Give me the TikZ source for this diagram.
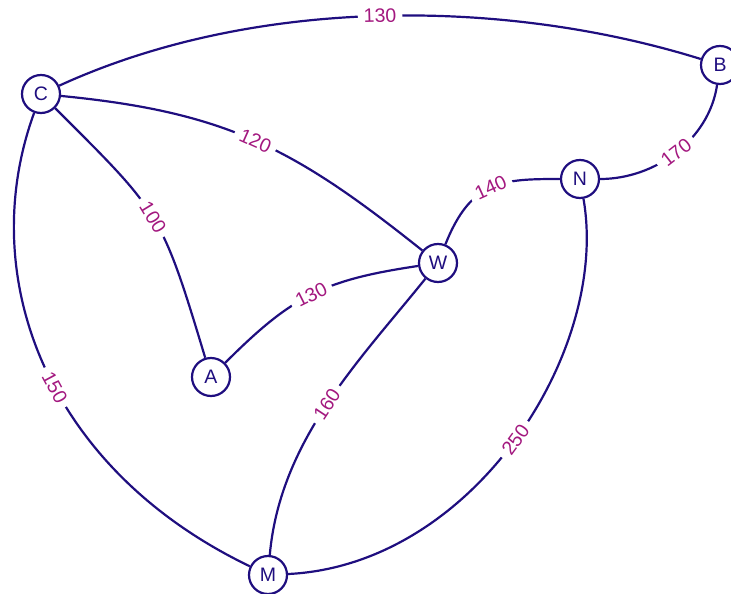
\documentclass[tikz,border=0pt]{standalone}
\usepackage{fontspec}
\setmainfont{Liberation Sans}
\definecolor{edgec}{HTML}{1F0E7F}
\definecolor{labc}{HTML}{A3187F}
\begin{document}
\begin{tikzpicture}[x=1pt,y=-1pt,
  vert/.style={circle,draw=edgec,fill=white,line width=2.2pt,minimum size=38pt,inner sep=0pt,text=edgec,font=\fontsize{19.5}{22}\selectfont},
  edge/.style={draw=edgec,line width=2.2pt},
  wt/.style={fill=white,text=labc,sloped,inner xsep=6pt,inner ysep=3pt,font=\fontsize{19.5}{22}\selectfont}]
\useasboundingbox (0,0) rectangle (731,594);
\node[vert] (C) at (41,94) {C};
\node[vert] (B) at (720,65) {B};
\node[vert] (N) at (580,179) {N};
\node[vert] (W) at (438,263) {W};
\node[vert] (A) at (211,377) {A};
\node[vert] (M) at (268,575) {M};
\draw[edge] (C) .. controls (255,-4) and (505,-2) .. node[wt]{130} (B);
\draw[edge] (C) .. controls (226,112) and (294,148) .. node[wt]{120} (W);
\draw[edge] (C) .. controls (160,213) and (161,211) .. node[wt]{100} (A);
\draw[edge] (C) .. controls (-25,275) and (45,468) .. node[wt,pos=0.55]{150} (M);
\draw[edge] (B) .. controls (709,140) and (655,179) .. node[wt]{170} (N);
\draw[edge] (N) .. controls (502,179) and (471,180) .. node[wt]{140} (W);
\draw[edge] (N) .. controls (610,350) and (474,565) .. node[wt]{250} (M);
\draw[edge] (W) .. controls (323.5,280) and (292,296) .. node[wt]{130} (A);
\draw[edge] (W) .. controls (360,360) and (280,440) .. node[wt]{160} (M);
\end{tikzpicture}
\end{document}
